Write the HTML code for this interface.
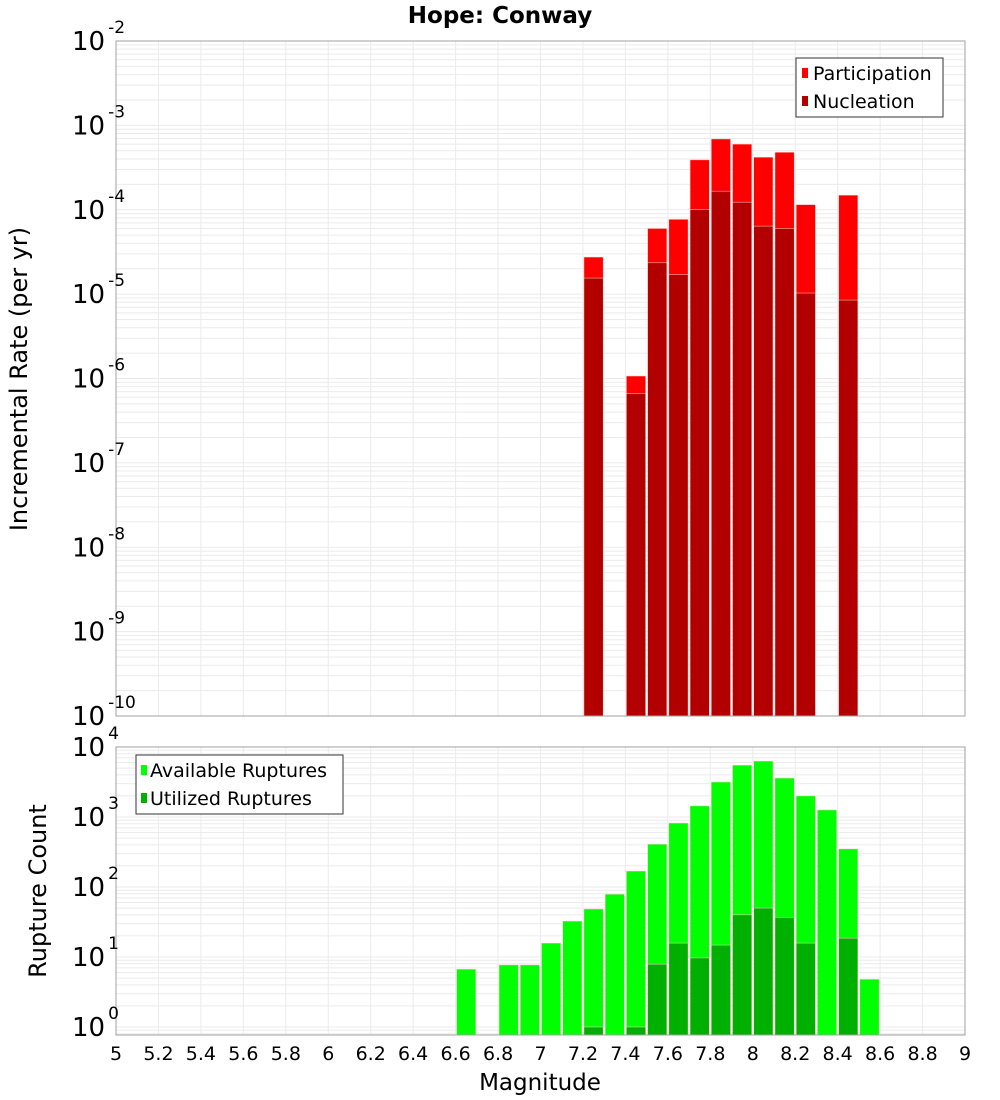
<!DOCTYPE html>
<html><head><meta charset="utf-8"><style>
body{margin:0;background:#fff;}
svg{display:block;font-family:"DejaVu Sans","Liberation Sans",sans-serif;}
</style></head><body>
<svg id="chart" width="1000" height="1100" xmlns="http://www.w3.org/2000/svg">
<text x="500" y="23" text-anchor="middle" font-size="23" font-weight="bold">Hope: Conway</text>
<g id="top"></g><g id="bot"></g>
</svg>
<script>
const binCenters=[6.65,6.75,6.85,6.95,7.05,7.15,7.25,7.35,7.45,7.55,7.65,7.75,7.85,7.95,8.05,8.15,8.25,8.35,8.45,8.55];
const participation=[0,0,0,0,0,0,2.75e-5,0,1.07e-6,6.0e-5,7.7e-5,3.9e-4,6.9e-4,6.0e-4,4.2e-4,4.8e-4,1.15e-4,0,1.49e-4,0];
const nucleation=[0,0,0,0,0,0,1.55e-5,0,6.6e-7,2.35e-5,1.7e-5,1.0e-4,1.66e-4,1.23e-4,6.4e-5,6.0e-5,1.03e-5,0,8.5e-6,0];
const available=[6.7,0,7.7,7.7,15.8,32.6,48.5,79,169,410,820,1440,3160,5500,6300,3600,2000,1260,350,4.8];
const utilized=[0,0,0,0,0,0,1,0,1,7.9,15.8,9.7,14.8,40,50,37,15.8,0,18.6,0];
const xTicks=[5,5.2,5.4,5.6,5.8,6,6.2,6.4,6.6,6.8,7,7.2,7.4,7.6,7.8,8,8.2,8.4,8.6,8.8,9];
const topExps=[-10,-9,-8,-7,-6,-5,-4,-3,-2];
const botExps=[0,1,2,3,4];
const NS="http://www.w3.org/2000/svg";
const L=116,R=965;
const xs=m=>L+(m-5)/4*(R-L);
const yTop=v=>41+(-2-Math.log10(v))*84.375;
const yBot=v=>1027-70*Math.log10(v);
function mk(p,t,a){const e=document.createElementNS(NS,t);for(const k in a)e.setAttribute(k,a[k]);p.appendChild(e);return e;}
function panel(g,y0,y1,yf,exps,name){
  mk(g,'rect',{x:L,y:y0,width:R-L,height:y1-y0,fill:'#fff'});
  for(let i=0;i<exps.length;i++){for(let k=1;k<10;k++){const v=k*Math.pow(10,exps[i]);const y=yf(v);if(y<y0-0.5||y>y1+0.5)continue;
    const ln=mk(g,'line',{x1:L,x2:R,y1:y,y2:y,stroke:'#ebebeb','stroke-width':1});
    }}
  for(const t of xTicks){const x=xs(t);const ln=mk(g,'line',{x1:x,x2:x,y1:y0,y2:y1,stroke:'#ebebeb','stroke-width':1});
    }
}
function axisBox(g,y0,y1,name){const r=mk(g,'rect',{x:L,y:y0,width:R-L,height:y1-y0,fill:'none',stroke:'#a0a0a0','stroke-width':1});
  }
function yLabels(g,exps,yf,name){for(const e of exps){const y=yf(Math.pow(10,e));
  const t=mk(g,'text',{x:72,y:y+9,'font-size':26});
  
  t.textContent='10';const s=mk(t,'tspan',{dx:3,dy:-17,'font-size':17});s.textContent=String(e);}}
function bars(g,vals,yf,ybase,color,name){binCenters.forEach((c,i)=>{const v=vals[i];if(!v)return;const y=Math.max(yf(v),0);
  const b=mk(g,'rect',{x:xs(c-0.05)+1,y:y,width:xs(c+0.05)-xs(c-0.05)-2,height:ybase-y,fill:color,stroke:'#ffd0d0','stroke-width':0.5});
  });}
const gt=document.getElementById('top');
panel(gt,41,716,yTop,[-10,-9,-8,-7,-6,-5,-4,-3],'rate');
bars(gt,participation,yTop,716,'#ff0000','participation');
bars(gt,nucleation,yTop,716,'#b20000','nucleation');
axisBox(gt,41,716,'rate');
yLabels(gt,topExps,yTop,'rate');
{const t=mk(gt,'text',{x:0,y:0,transform:'translate(27,379) rotate(-90)','text-anchor':'middle','font-size':24});t.textContent='Incremental Rate (per yr)';
}
{const lg=mk(gt,'g',{});
mk(lg,'rect',{x:796,y:58,width:147,height:59,fill:'#fff',stroke:'#333','stroke-width':1});
mk(lg,'rect',{x:802,y:68,width:6,height:10,fill:'#ff0000'});
mk(lg,'rect',{x:802,y:96,width:6,height:10,fill:'#b20000'});
let t=mk(lg,'text',{x:813,y:80,'font-size':19});t.textContent='Participation';
t=mk(lg,'text',{x:813,y:108,'font-size':19});t.textContent='Nucleation';}
const gb=document.getElementById('bot');
panel(gb,747,1035,yBot,[-1,0,1,2,3],'count');
bars(gb,available,yBot,1035,'#00ff00','available');
bars(gb,utilized,yBot,1035,'#00b000','utilized');
axisBox(gb,747,1035,'count');
yLabels(gb,botExps,yBot,'count');
{const t=mk(gb,'text',{x:0,y:0,transform:'translate(46,891) rotate(-90)','text-anchor':'middle','font-size':24});t.textContent='Rupture Count';
}
{const lg=mk(gb,'g',{});
mk(lg,'rect',{x:136,y:755,width:207,height:59,fill:'#fff',stroke:'#333','stroke-width':1});
mk(lg,'rect',{x:141,y:765,width:6,height:10,fill:'#00ff00'});
mk(lg,'rect',{x:141,y:793,width:6,height:10,fill:'#00b000'});
let t=mk(lg,'text',{x:150,y:777,'font-size':19});t.textContent='Available Ruptures';
t=mk(lg,'text',{x:150,y:805,'font-size':19});t.textContent='Utilized Ruptures';}
for(const v of xTicks){const t=mk(gb,'text',{x:xs(v),y:1060,'text-anchor':'middle','font-size':19});t.textContent=String(v);
}
{const t=mk(gb,'text',{x:540,y:1090,'text-anchor':'middle','font-size':23});t.textContent='Magnitude';
}
</script>
</body></html>
